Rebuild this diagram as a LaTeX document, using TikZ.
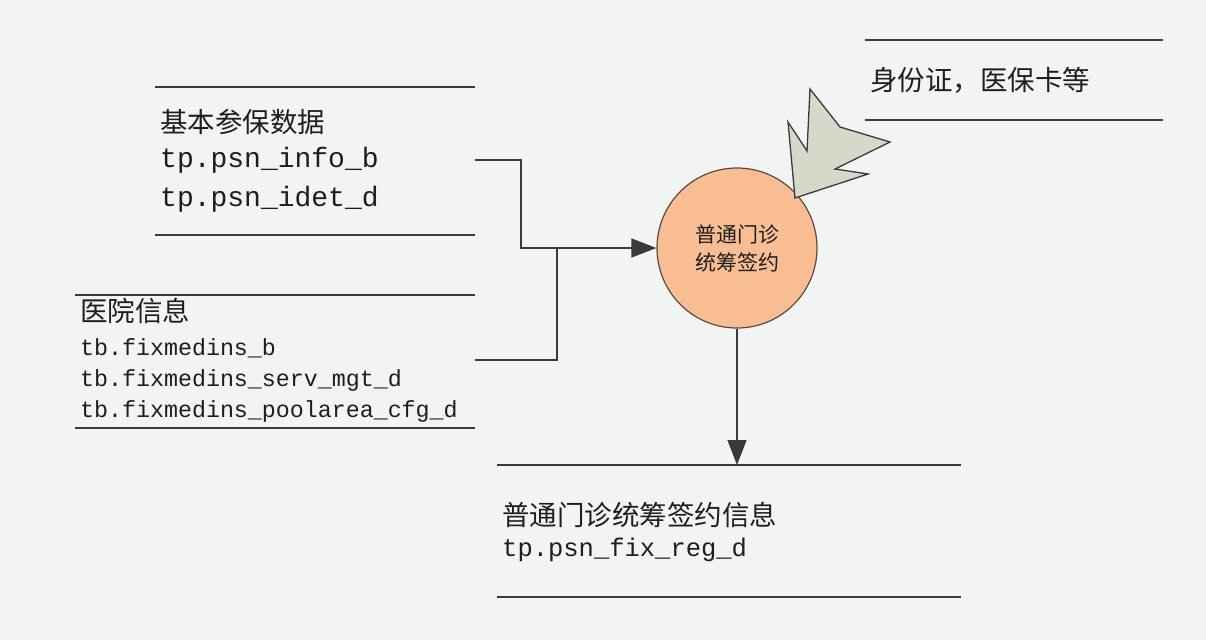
\documentclass[tikz,border=0pt]{standalone}
\usepackage{fontspec}
\setmainfont{Liberation Serif}
\newfontfamily\cjk{Noto Sans CJK SC}
\newfontfamily\mono{Liberation Mono}
\usetikzlibrary{arrows.meta}
\definecolor{bg}{HTML}{F2F3F3}
\definecolor{ink}{HTML}{1E1E1E}
\definecolor{linec}{HTML}{3A3A3A}
\definecolor{procfill}{HTML}{F8BD93}
\definecolor{procline}{HTML}{5A4A40}
\definecolor{boltfill}{HTML}{D5D9CA}
\tikzset{
  storeline/.style={draw=linec, line width=1.4pt},
  cjkbig/.style={anchor=west, inner sep=0pt, text=ink, font=\cjk\fontsize{27.5}{30}\selectfont},
  monobig/.style={anchor=west, inner sep=0pt, text=ink, font=\mono\fontsize{28}{30}\selectfont},
  monomid/.style={anchor=west, inner sep=0pt, text=ink, font=\mono\fontsize{25.5}{28}\selectfont},
  monosmall/.style={anchor=west, inner sep=0pt, text=ink, font=\mono\fontsize{23.3}{26}\selectfont},
  flow/.style={draw=linec, line width=1.4pt},
  flowarrow/.style={flow, -{Triangle[length=25pt,width=19pt]}},
  process/.style={circle, minimum size=160pt, inner sep=0pt, fill=procfill, draw=procline, line width=1.2pt, align=center, text=ink, font=\cjk\fontsize{21}{30}\selectfont},
}
\begin{document}
\begin{tikzpicture}[x=1pt,y=-1pt]
\useasboundingbox (0,0) rectangle (1206,640);
\fill[bg] (0,0) rectangle (1206,640);

% store 1
\draw[storeline] (155,87) -- (475,87);
\draw[storeline] (155,235) -- (475,235);
\node[cjkbig] (s1a) at (160,122) {基本参保数据};
\node[monobig] (s1b) at (160,160) {tp.psn\_info\_b};
\node[monobig] (s1c) at (160,199) {tp.psn\_idet\_d};
\coordinate (s1out) at (475,160);

% store 2
\draw[storeline] (75,295) -- (475,295);
\draw[storeline] (75,428) -- (475,428);
\node[cjkbig] (s2a) at (80,311) {医院信息};
\node[monosmall] (s2b) at (80,348) {tb.fixmedins\_b};
\node[monosmall] (s2c) at (80,380) {tb.fixmedins\_serv\_mgt\_d};
\node[monosmall] (s2d) at (80,411) {tb.fixmedins\_poolarea\_cfg\_d};
\coordinate (s2out) at (475,360);

% store 3
\draw[storeline] (497,465) -- (961,465);
\draw[storeline] (497,597) -- (961,597);
\node[cjkbig] (s3a) at (502,515) {普通门诊统筹签约信息};
\node[monomid] (s3b) at (502,550) {tp.psn\_fix\_reg\_d};
\coordinate (s3in) at (737,465);

% store 4
\draw[storeline] (865,40) -- (1163,40);
\draw[storeline] (865,120) -- (1163,120);
\node[cjkbig] (s4a) at (870,80) {身份证，医保卡等};

% process
\node[process] (proc) at (737,248) {普通门诊\\[-2pt]统筹签约};

% bolt
\filldraw[fill=boltfill, draw=linec, line width=1.3pt, line join=miter]
  (810,89) -- (840,127) -- (890,142) -- (835,169) -- (868,174) -- (795,198) -- (788,122) -- (807,151) -- cycle;

% connectors
\coordinate (j1) at (521,248);
\coordinate (j2) at (557,248);
\draw[flowarrow] (s1out) -| (j1) -- (proc.west);
\draw[flow] (s2out) -| (j2);
\draw[flowarrow] (proc.south) -- (s3in);
\end{tikzpicture}
\end{document}
